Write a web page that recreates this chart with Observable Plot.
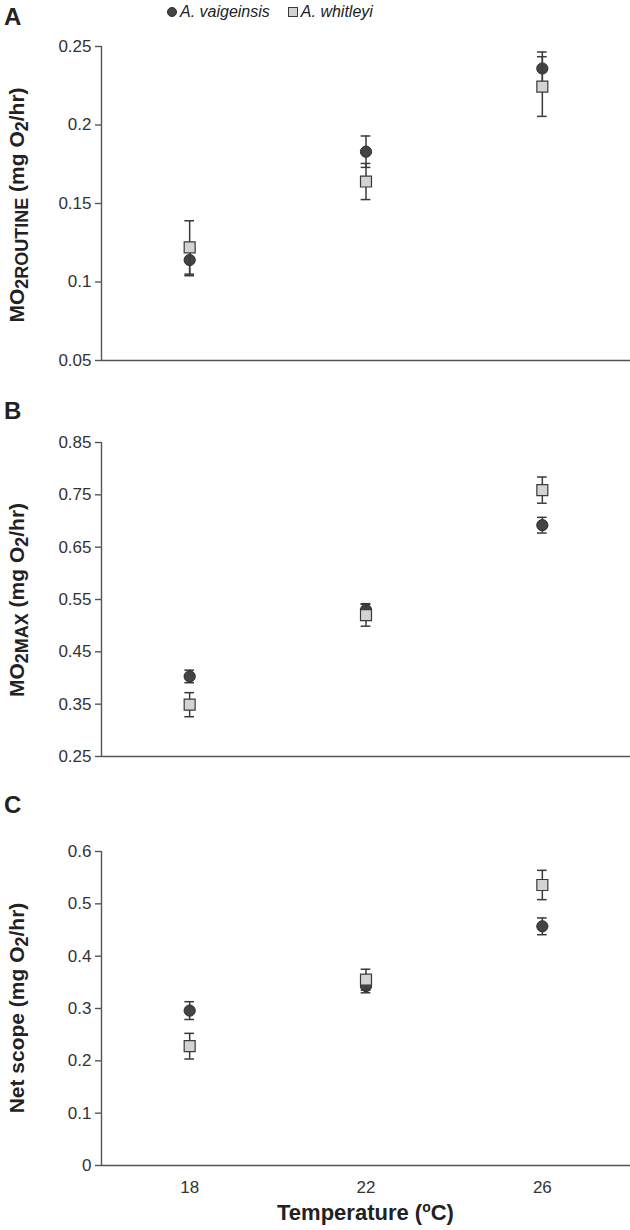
<!DOCTYPE html>
<html>
<head>
<meta charset="utf-8">
<script src="https://cdn.jsdelivr.net/npm/d3@7"></script>
<script src="https://cdn.jsdelivr.net/npm/@observablehq/plot@0.6"></script>
<style>
  body { margin: 0; background: #fff; }
  #wrap { position: relative; width: 630px; height: 1230px; font-family: "Liberation Sans", Arial, sans-serif; color: #222; }
  .abs { position: absolute; }
  .letter { font-weight: bold; font-size: 24px; color: #222; }
  .ylab { font-weight: bold; font-size: 21px; white-space: nowrap; text-align: center; width: 400px; height: 26px; line-height: 26px; transform: rotate(-90deg); transform-origin: 50% 50%; color: #222; }
  .ylab sub { font-size: 18px; vertical-align: -4px; line-height: 0; }
  .legend { font-size: 16px; font-style: italic; color: #222; display: flex; align-items: center; white-space: nowrap; }
  .sym { display: inline-block; width: 10px; height: 10px; box-sizing: border-box; margin-right: 3px; }
</style>
</head>
<body>
<div id="wrap"></div>
<script>
// ---- data ----
const temps = [18, 22, 26];
const species = ["A. vaigeinsis", "A. whitleyi"];

const routineVaig = [0.114, 0.183, 0.236];
const routineVaigErr = [0.010, 0.010, 0.0105];
const routineWhit = [0.122, 0.164, 0.2245];
const routineWhitErr = [0.017, 0.0115, 0.019];

const maxVaig = [0.403, 0.530, 0.692];
const maxVaigErr = [0.012, 0.012, 0.015];
const maxWhit = [0.349, 0.520, 0.759];
const maxWhitErr = [0.023, 0.021, 0.025];

const scopeVaig = [0.296, 0.343, 0.457];
const scopeVaigErr = [0.017, 0.013, 0.016];
const scopeWhit = [0.228, 0.355, 0.536];
const scopeWhitErr = [0.0245, 0.020, 0.028];

const ticksA = [0.05, 0.1, 0.15, 0.2, 0.25];
const ticksB = [0.25, 0.35, 0.45, 0.55, 0.65, 0.75, 0.85];
const ticksC = [0, 0.1, 0.2, 0.3, 0.4, 0.5, 0.6];

// ---- styling ----
const axisColor = "#555";
const barColor = "#3a3a3a";
const circleFill = "#444";
const squareFill = "#d3d3d3";
const xDomain = [16, 28];
const capHalf = 0.11;
const tickFont = 17;

const wrap = document.getElementById("wrap");

function rows(vals, errs) {
  return temps.map((t, i) => ({t, v: vals[i], e: errs[i]}));
}

function panel({top, ticks, vaig, vaigErr, whit, whitErr, xAxis}) {
  const a = rows(vaig, vaigErr);
  const b = rows(whit, whitErr);
  const yDom = [ticks[0], ticks[ticks.length - 1]];
  const errMarks = (d) => [
    Plot.ruleX(d, {x: "t", y1: r => r.v - r.e, y2: r => r.v + r.e, stroke: barColor, strokeWidth: 1.5}),
    Plot.ruleY(d, {y: r => r.v + r.e, x1: r => r.t - capHalf, x2: r => r.t + capHalf, stroke: barColor, strokeWidth: 1.5}),
    Plot.ruleY(d, {y: r => r.v - r.e, x1: r => r.t - capHalf, x2: r => r.t + capHalf, stroke: barColor, strokeWidth: 1.5})
  ];
  const marks = [
    Plot.ruleY([yDom[0]], {stroke: axisColor, strokeWidth: 1.4}),
    Plot.ruleX([xDomain[0]], {stroke: axisColor, strokeWidth: 1.4}),
    Plot.axisY({ticks, tickSize: 6, tickPadding: 4, fontSize: tickFont, tickFormat: d => String(+d.toFixed(2)), label: null, stroke: axisColor, strokeWidth: 1.4, fill: "#333"}),
    ...errMarks(a),
    Plot.dot(a, {x: "t", y: "v", symbol: "circle", r: 5.6, fill: circleFill, stroke: "#2b2b2b", strokeWidth: 1}),
    ...errMarks(b),
    Plot.dot(b, {x: "t", y: "v", symbol: "square", r: 6.2, fill: squareFill, stroke: "#3a3a3a", strokeWidth: 1.2})
  ];
  if (xAxis) {
    marks.push(Plot.axisX({ticks: temps, tickSize: 0, tickPadding: 15, fontSize: tickFont, label: null, fill: "#333"}));
  }
  const chart = Plot.plot({
    width: 630,
    height: xAxis ? 384 : 334,
    marginLeft: 101,
    marginRight: 0,
    marginTop: 10,
    marginBottom: xAxis ? 60 : 10,
    x: {domain: xDomain, axis: null},
    y: {domain: yDom, axis: null},
    style: {fontFamily: "'Liberation Sans', Arial, sans-serif", fontSize: "17px", color: "#333", background: "transparent", overflow: "visible"},
    marks
  });
  chart.style.position = "absolute";
  chart.style.left = "0px";
  chart.style.top = top + "px";
  wrap.appendChild(chart);
}

panel({top: 36, ticks: ticksA, vaig: routineVaig, vaigErr: routineVaigErr, whit: routineWhit, whitErr: routineWhitErr, xAxis: false});
panel({top: 432, ticks: ticksB, vaig: maxVaig, vaigErr: maxVaigErr, whit: maxWhit, whitErr: maxWhitErr, xAxis: false});
panel({top: 841, ticks: ticksC, vaig: scopeVaig, vaigErr: scopeVaigErr, whit: scopeWhit, whitErr: scopeWhitErr, xAxis: true});

function addHTML(html, cls, left, top) {
  const d = document.createElement("div");
  d.className = "abs " + cls;
  d.innerHTML = html;
  d.style.left = left + "px";
  d.style.top = top + "px";
  wrap.appendChild(d);
  return d;
}

// panel letters
addHTML("A", "letter", 4, 3);
addHTML("B", "letter", 4, 397);
addHTML("C", "letter", 4, 791);

// y labels (rotated), centred at (17, cy)
function ylab(html, cy) { addHTML(html, "ylab", 17 - 200, cy - 13); }
ylab("MO<sub>2ROUTINE</sub> (mg O<sub>2</sub>/hr)", 205);
ylab("MO<sub>2MAX</sub> (mg O<sub>2</sub>/hr)", 600);
ylab("Net scope (mg O<sub>2</sub>/hr)", 1008);

// x label
const xl = addHTML("Temperature (<sup style='font-size:14px;line-height:0'>o</sup>C)", "", 0, 1200);
xl.style.width = "630px"; xl.style.paddingLeft = "101px"; xl.style.boxSizing = "border-box";
xl.style.textAlign = "center"; xl.style.fontWeight = "bold"; xl.style.fontSize = "22px"; xl.style.color = "#222";

// legend
addHTML(
  `<span class="sym" style="border-radius:50%;background:${circleFill};border:1px solid #2b2b2b"></span><span>${species[0]}</span>` +
  `<span class="sym" style="margin-left:18px;background:${squareFill};border:1px solid #3a3a3a"></span><span>${species[1]}</span>`,
  "legend", 167, 3);
</script>
</body>
</html>
